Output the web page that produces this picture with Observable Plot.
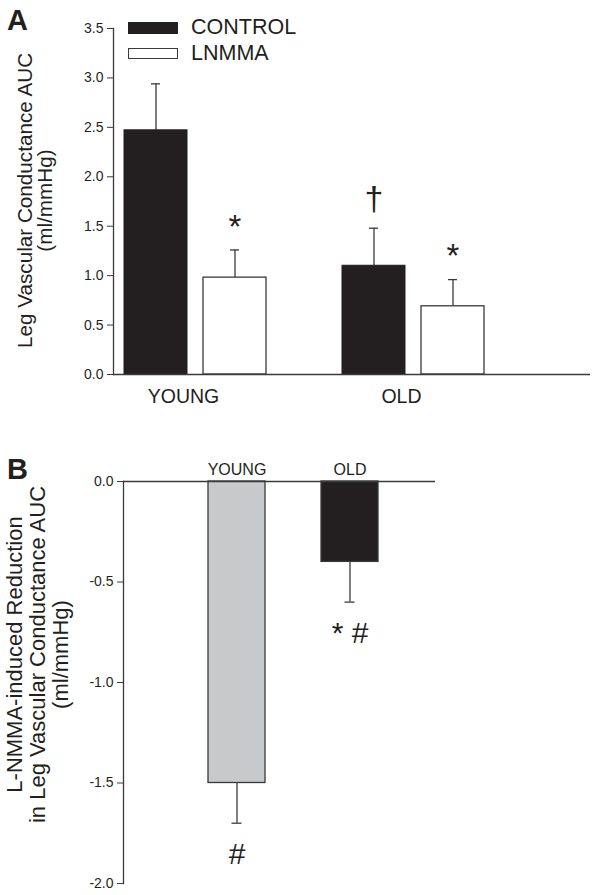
<!DOCTYPE html>
<html><head><meta charset="utf-8">
<script src="https://cdn.jsdelivr.net/npm/d3@7"></script>
<script src="https://cdn.jsdelivr.net/npm/@observablehq/plot@0.6"></script>
<style>
body{margin:0;background:#fff;}
#wrap{position:relative;width:592px;height:895px;font-family:"Liberation Sans",Arial,sans-serif;color:#231f20;overflow:hidden;}
#wrap svg{display:block;}
.panel{position:absolute;font-weight:bold;font-size:29px;line-height:1;}
.leg{position:absolute;left:128px;display:flex;align-items:center;font-size:21.5px;line-height:1;}
.sw{width:50px;box-sizing:border-box;margin-right:13px;}
</style></head><body><div id="wrap"></div>
<script>
// ---- data ----
const groups = ["YOUNG", "OLD"];
const treatments = ["CONTROL", "LNMMA"];
const controlMean = [2.47, 1.10];
const controlUpper = [2.94, 1.48];
const controlSig = ["", "†"];
const lnmmaMean = [0.98, 0.69];
const lnmmaUpper = [1.26, 0.96];
const lnmmaSig = ["*", "*"];
const yTicksA = [0, 0.5, 1.0, 1.5, 2.0, 2.5, 3.0, 3.5];
const yLabelA = "Leg Vascular Conductance AUC\n(ml/mmHg)";

const reduction = [-1.5, -0.4];
const reductionLower = [-1.7, -0.6];
const reductionSig = ["#", "* #"];
const reductionColors = ["#c8c9cb", "#231f20"];
const yTicksB = [0, -0.5, -1.0, -1.5, -2.0];
const yLabelB = "L-NMMA-induced Reduction\nin Leg Vascular Conductance AUC\n(ml/mmHg)";

const ctrl = groups.map((g, i) => ({group: g, mean: controlMean[i], upper: controlUpper[i], sig: controlSig[i]}));
const lnm = groups.map((g, i) => ({group: g, mean: lnmmaMean[i], upper: lnmmaUpper[i], sig: lnmmaSig[i]}));
const red = groups.map((g, i) => ({group: g, mean: reduction[i], lower: reductionLower[i], sig: reductionSig[i], color: reductionColors[i]}));

const INK = "#231f20", LINE = "#3a3a3a";
const font = "'Liberation Sans', Arial, sans-serif";

const A = Plot.plot({
  width: 592, height: 440,
  marginLeft: 113, marginRight: 2, marginTop: 28, marginBottom: 66,
  style: {fontFamily: font, color: INK, background: "white", overflow: "visible"},
  x: {domain: groups, range: [123, 485], paddingInner: 0.347, paddingOuter: 0, axis: null},
  y: {domain: [0, 3.5], axis: null},
  marks: [
    Plot.ruleX(ctrl, {x: "group", y1: "mean", y2: "upper", dx: -39.5, stroke: LINE, strokeWidth: 1.3}),
    Plot.tickY(ctrl, {x: "group", y: "upper", dx: -39.5, insetLeft: 66.5, insetRight: 66.5, stroke: LINE, strokeWidth: 1.3}),
    Plot.ruleX(lnm, {x: "group", y1: "mean", y2: "upper", dx: 39.5, stroke: LINE, strokeWidth: 1.3}),
    Plot.tickY(lnm, {x: "group", y: "upper", dx: 39.5, insetLeft: 66.5, insetRight: 66.5, stroke: LINE, strokeWidth: 1.3}),
    Plot.barY(ctrl, {x: "group", y: "mean", fill: INK, stroke: INK, insetRight: 79}),
    Plot.barY(lnm, {x: "group", y: "mean", fill: "white", stroke: LINE, strokeWidth: 1.3, insetLeft: 79}),
    Plot.text(ctrl.filter(d => d.sig), {x: "group", y: "upper", text: "sig", dx: -39.5, dy: -29, fontSize: 34, fill: INK}),
    Plot.text(lnm.filter(d => d.sig), {x: "group", y: "upper", text: "sig", dx: 39.5, dy: -23, fontSize: 33, fill: INK}),
    Plot.ruleY([0], {stroke: LINE, strokeWidth: 1.3}),
    Plot.frame({anchor: "left", stroke: LINE, strokeWidth: 1.3}),
    Plot.axisY({ticks: yTicksA, tickFormat: d => d.toFixed(1), tickSize: 6, tickPadding: 4, fontSize: 14, stroke: LINE}),
    Plot.axisX({tickSize: 0, tickPadding: 15, fontSize: 19.5, dx: -12, label: null}),
    Plot.text([yLabelA], {text: d => d, frameAnchor: "left", textAnchor: "middle", lineAnchor: "middle", rotate: -90, dx: -78, dy: -1, fontSize: 20.7, lineHeight: 1.0, fill: INK})
  ]
});

const B = Plot.plot({
  width: 592, height: 455,
  marginLeft: 123, marginRight: 157, marginTop: 41, marginBottom: 12,
  style: {fontFamily: font, color: INK, background: "white", overflow: "visible"},
  x: {domain: groups, range: [208, 379], paddingInner: 0.493, paddingOuter: 0, axis: null},
  y: {domain: [-2, 0], axis: null},
  marks: [
    Plot.ruleX(red, {x: "group", y1: "mean", y2: "lower", stroke: LINE, strokeWidth: 1.3}),
    Plot.tickY(red, {x: "group", y: "lower", insetLeft: 23.5, insetRight: 23.5, stroke: LINE, strokeWidth: 1.3}),
    Plot.barY(red, {x: "group", y: "mean", fill: "color", stroke: LINE, strokeWidth: 1.3}),
    Plot.text(red, {x: "group", y: "lower", text: "sig", dy: 31, fontSize: 30, fill: INK}),
    Plot.ruleY([0], {stroke: LINE, strokeWidth: 1.3}),
    Plot.frame({anchor: "left", stroke: LINE, strokeWidth: 1.3}),
    Plot.axisY({ticks: yTicksB, tickFormat: d => d.toFixed(1), tickSize: 6, tickPadding: 4, fontSize: 14, stroke: LINE}),
    Plot.axisX({anchor: "top", tickSize: 0, tickPadding: 7, fontSize: 16, label: null}),
    Plot.text([yLabelB], {text: d => d, frameAnchor: "left", textAnchor: "middle", lineAnchor: "middle", rotate: -90, dx: -86, dy: -28, fontSize: 22, lineHeight: 1.06, fill: INK})
  ]
});

const wrap = document.getElementById("wrap");
wrap.appendChild(A);
wrap.appendChild(B);

function addDiv(cls, css, html) {
  const d = document.createElement("div");
  d.className = cls; d.style.cssText = css; d.innerHTML = html;
  wrap.appendChild(d);
}
addDiv("panel", "left:7px;top:6px;", "A");
addDiv("panel", "left:7px;top:455px;", "B");
addDiv("leg", "top:17px;", `<div class="sw" style="height:12px;background:${INK};"></div><span>${treatments[0]}</span>`);
addDiv("leg", "top:43px;", `<div class="sw" style="height:11px;background:#fff;border:1.3px solid ${LINE};"></div><span>${treatments[1]}</span>`);
</script></body></html>
